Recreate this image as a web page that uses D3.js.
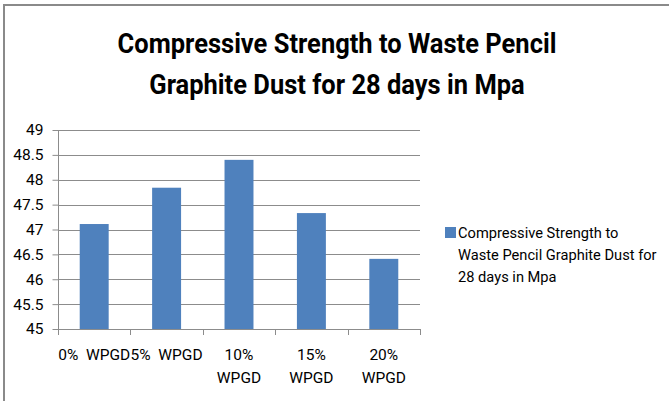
<!DOCTYPE html>
<html>
<head>
<meta charset="utf-8">
<script src="https://cdn.jsdelivr.net/npm/d3@7"></script>
<style>
  html, body { margin: 0; padding: 0; background: #fff; }
  svg { display: block; }
</style>
</head>
<body>
<div id="chart-container"></div>
<script>
// Dữ liệu
const categories = ["0%", "5%", "10%", "15%", "20%"];
const tickLabels = [["0%  WPGD"], ["5%  WPGD"], ["10%", "WPGD"], ["15%", "WPGD"], ["20%", "WPGD"]];
const values = [47.11, 47.84, 48.40, 47.33, 46.41];
const yTicks = [45, 45.5, 46, 46.5, 47, 47.5, 48, 48.5, 49];
const titleLines = ["Compressive Strength to Waste Pencil", "Graphite Dust for 28 days in Mpa"];
const legendLines = ["Compressive Strength to", "Waste Pencil Graphite Dust for", "28 days in Mpa"];

const width = 669, height = 401;
const font = "Roboto, 'Liberation Sans', sans-serif";
const margin = { top: 130, left: 58, right: 249, bottom: 72 };

const svg = d3.select("#chart-container")
    .append("svg")
    .attr("width", width)
    .attr("height", height)
    .style("font-family", font);

// Co chữ cho vừa bề rộng mong muốn
function fitSize(textSel, targetWidth, baseSize) {
    const w = textSel.node().getBBox().width;
    return baseSize * targetWidth / w;
}

// Khung viền
svg.append("path")
    .attr("d", `M4,${height} V5 H${width}`)
    .attr("fill", "none")
    .attr("stroke", "#8a8a8a")
    .attr("stroke-width", 2);

const x = d3.scaleBand()
    .domain(categories)
    .range([margin.left, width - margin.right])
    .paddingInner(0.6)
    .paddingOuter(0.3);

const y = d3.scaleLinear()
    .domain([45, 49])
    .range([height - margin.bottom, margin.top]);

// Lưới
svg.append("g")
    .selectAll("line")
    .data(yTicks)
    .join("line")
    .attr("x1", margin.left)
    .attr("x2", width - margin.right)
    .attr("y1", d => Math.round(y(d)) + 0.5)
    .attr("y2", d => Math.round(y(d)) + 0.5)
    .attr("stroke", "#8c8c8c");

// Cột
svg.append("g")
    .selectAll("rect")
    .data(values)
    .join("rect")
    .attr("x", (d, i) => x(categories[i]))
    .attr("y", d => y(d))
    .attr("width", x.bandwidth())
    .attr("height", d => y(45) - y(d))
    .attr("fill", "#4f81bd");

// Trục y
const yAxis = svg.append("g")
    .attr("transform", `translate(${margin.left + 0.5},0)`)
    .call(d3.axisLeft(y).tickValues(yTicks).tickSize(6).tickPadding(9).tickFormat(d => String(d)));
yAxis.selectAll("line, path").attr("stroke", "#8c8c8c");
yAxis.select(".domain").attr("d", `M0,${y(49)}V${y(45)}`);
yAxis.selectAll("text")
    .style("font-family", font)
    .style("font-size", "15.5px")
    .attr("fill", "#000");

// Trục x
const xEdges = categories.map(c => x(c) - x.step() * x.paddingInner() / 2).concat([width - margin.right]);
const xAxis = svg.append("g");
xAxis.append("line")
    .attr("x1", margin.left).attr("x2", width - margin.right)
    .attr("y1", Math.round(y(45)) + 0.5).attr("y2", Math.round(y(45)) + 0.5)
    .attr("stroke", "#8c8c8c");
xAxis.selectAll(".tick")
    .data(xEdges)
    .join("line")
    .attr("x1", d => Math.round(d) + 0.5).attr("x2", d => Math.round(d) + 0.5)
    .attr("y1", y(45)).attr("y2", y(45) + 6)
    .attr("stroke", "#8c8c8c");

xAxis.selectAll("text")
    .data(tickLabels)
    .join("text")
    .attr("x", (d, i) => x(categories[i]) + x.bandwidth() / 2)
    .attr("y", 360)
    .attr("text-anchor", "middle")
    .style("font-size", "15.5px")
    .style("white-space", "pre")
    .attr("xml:space", "preserve")
    .selectAll("tspan")
    .data(d => d)
    .join("tspan")
    .attr("x", function () { return this.parentNode.getAttribute("x"); })
    .attr("dy", (d, i) => i === 0 ? 0 : 23)
    .text(d => d);

// Tiêu đề: cỡ chữ theo chiều cao, nén ngang cho vừa bề rộng
const title = svg.append("g");
const titleTexts = titleLines.map((line, i) => title.append("text")
    .attr("x", 0)
    .attr("y", 0)
    .attr("text-anchor", "middle")
    .style("font-size", "28px")
    .style("font-weight", "bold")
    .text(line));
const squeeze = 439 / titleTexts[0].node().getBBox().width;
titleTexts.forEach((t, i) => t.attr("transform", `translate(337, ${53 + i * 41}) scale(${squeeze}, 1)`));

// Chú giải
svg.append("rect")
    .attr("x", 445).attr("y", 227)
    .attr("width", 11).attr("height", 11)
    .attr("fill", "#4f81bd");
const legend = svg.append("text")
    .attr("x", 458)
    .attr("y", 238)
    .style("font-size", "17px");
legend.selectAll("tspan")
    .data(legendLines)
    .join("tspan")
    .attr("x", 458)
    .attr("dy", (d, i) => i === 0 ? 0 : 22)
    .text(d => d);
const probe = svg.append("text").style("font-size", "17px").text(legendLines[1]);
const legendSize = fitSize(probe, 199, 17);
probe.remove();
legend.style("font-size", legendSize + "px");
</script>
</body>
</html>
